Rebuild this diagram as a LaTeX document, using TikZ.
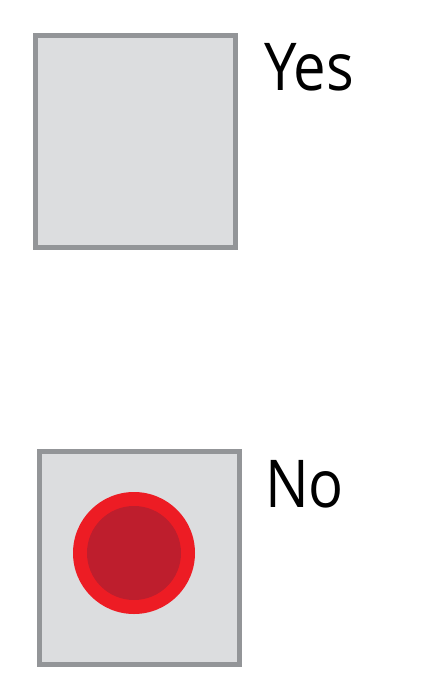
\documentclass[tikz,border=0pt]{standalone}
\usepackage{fontspec}
\setmainfont{Open Sans}
\definecolor{boxfill}{HTML}{DCDDDF}
\definecolor{boxline}{HTML}{939598}
\definecolor{redouter}{HTML}{ED1C24}
\definecolor{redinner}{HTML}{BE1E2D}
\begin{document}
\begin{tikzpicture}[x=1pt,y=-1pt,
  optbox/.style={draw=boxline,fill=boxfill,line width=5pt},
  optlabel/.style={anchor=base west,inner sep=0pt,font=\fontsize{66}{70}\selectfont,xscale=0.88}]
\useasboundingbox (0,0) rectangle (433,681);
\draw[optbox] (35.5,35.5) rectangle (235.5,247.5);
\node[optlabel] (yes) at (264,90.7) {Yes};
\draw[optbox] (39,451.5) rectangle (239,664.5);
\fill[redouter] (134,553) circle[radius=61];
\fill[redinner] (134,553) circle[radius=47];
\node[optlabel] (no) at (265,507.3) {No};
\end{tikzpicture}
\end{document}
